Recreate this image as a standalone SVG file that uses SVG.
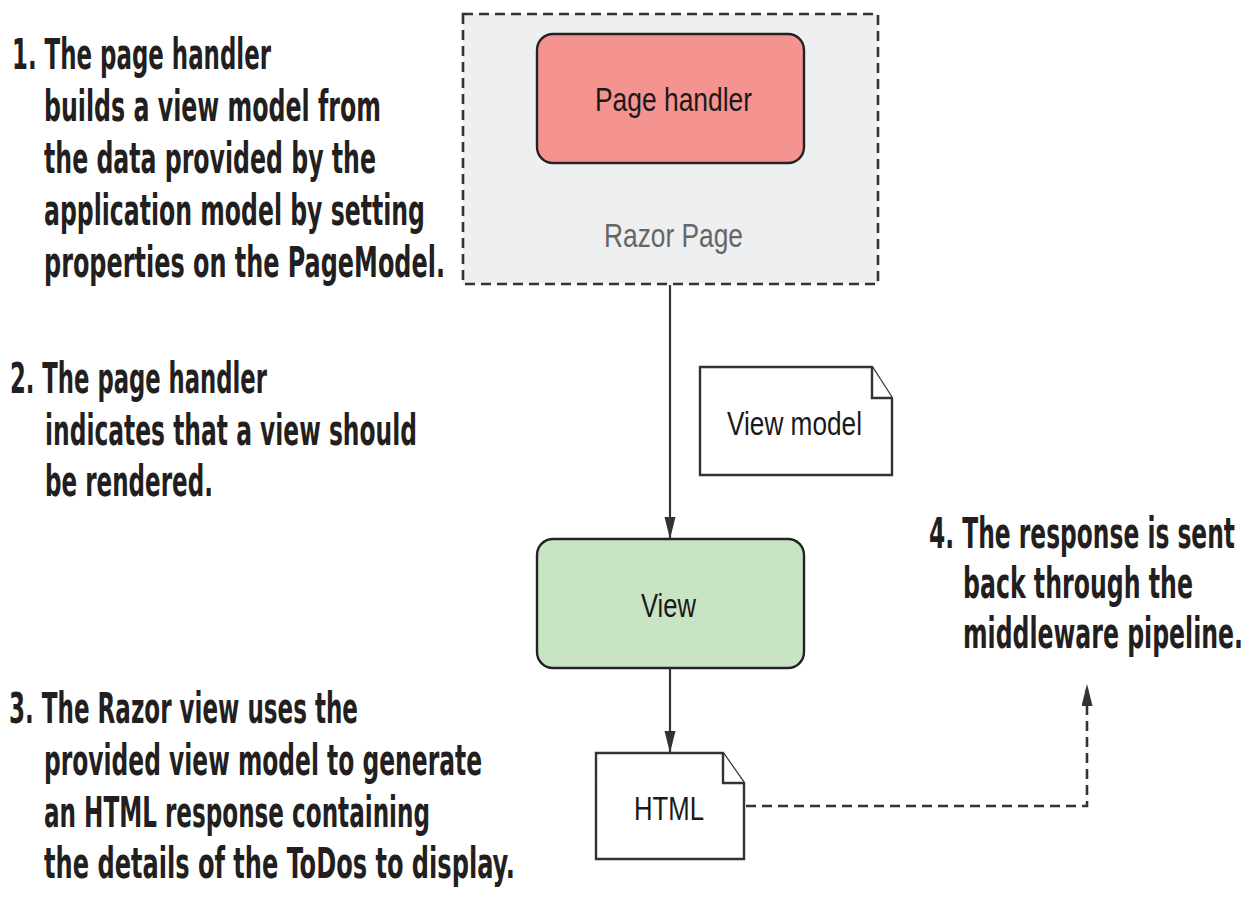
<svg xmlns="http://www.w3.org/2000/svg" width="1255" height="899" viewBox="0 0 1255 899">
  <defs>
    <style>
      .note { font-family: "DejaVu Sans Condensed", "Liberation Sans Narrow", "Liberation Sans", sans-serif; font-weight: bold; font-size: 43px; fill: #231f20; }
      .label { font-family: "Liberation Sans", Arial, sans-serif; font-size: 34px; fill: #1a1a1a; text-anchor: start; }
      .doc { fill: #ffffff; stroke: #333333; stroke-width: 2.4; stroke-linejoin: miter; }
      .conn { fill: none; stroke: #333333; stroke-width: 2.2; }
      .dashed { stroke-dasharray: 10 6; stroke-width: 2.6; }
    </style>
    <marker id="arrow" markerUnits="userSpaceOnUse" markerWidth="24" markerHeight="12" refX="22" refY="5.5" orient="auto">
      <path d="M0,0 L22,5.5 L0,11 z" fill="#333333"/>
    </marker>
  </defs>

  <rect width="1255" height="899" fill="#ffffff"/>

  <g id="razor-page">
    <rect x="463" y="14" width="415" height="270" fill="#eeeff1" stroke="#333333" stroke-width="2.6" stroke-dasharray="10 6"/>
    <text class="label" x="604" y="247" textLength="139" lengthAdjust="spacingAndGlyphs" style="fill:#666666">Razor Page</text>
  </g>

  <g id="page-handler">
    <rect x="537" y="34" width="267" height="129" rx="16" ry="16" fill="#f59391" stroke="#222222" stroke-width="2.4"/>
    <text class="label" x="595" y="111" textLength="157" lengthAdjust="spacingAndGlyphs">Page handler</text>
  </g>

  <g id="view-model">
    <path class="doc" d="M700,367 L872,367 L892,398 L892,475 L700,475 Z"/>
    <path class="doc" d="M872,367 L872,398 L892,398" fill="none"/>
    <text class="label" x="727" y="435" textLength="135" lengthAdjust="spacingAndGlyphs">View model</text>
  </g>

  <g id="view">
    <rect x="537" y="539" width="267" height="129" rx="16" ry="16" fill="#c8e4c4" stroke="#222222" stroke-width="2.4"/>
    <text class="label" x="641" y="617" textLength="55" lengthAdjust="spacingAndGlyphs">View</text>
  </g>

  <g id="html">
    <path class="doc" d="M596,753 L723,753 L744,783 L744,859 L596,859 Z"/>
    <path class="doc" d="M723,753 L723,783 L744,783" fill="none"/>
    <text class="label" x="634" y="820" textLength="70" lengthAdjust="spacingAndGlyphs">HTML</text>
  </g>

  <g id="connectors">
    <line class="conn" x1="670" y1="285" x2="670" y2="539" marker-end="url(#arrow)"/>
    <line class="conn" x1="670" y1="668" x2="670" y2="753" marker-end="url(#arrow)"/>
    <polyline class="conn dashed" points="746,806 1087,806 1087,684" marker-end="url(#arrow)"/>
  </g>

  <g id="note-1">
    <text class="note" x="12" y="69" textLength="259" lengthAdjust="spacingAndGlyphs">1. The page handler</text>
    <text class="note" x="44" y="121" textLength="337" lengthAdjust="spacingAndGlyphs">builds a view model from</text>
    <text class="note" x="44" y="173" textLength="332" lengthAdjust="spacingAndGlyphs">the data provided by the</text>
    <text class="note" x="44" y="225" textLength="381" lengthAdjust="spacingAndGlyphs">application model by setting</text>
    <text class="note" x="44" y="277" textLength="401" lengthAdjust="spacingAndGlyphs">properties on the PageModel.</text>
  </g>

  <g id="note-2">
    <text class="note" x="10" y="393" textLength="257" lengthAdjust="spacingAndGlyphs">2. The page handler</text>
    <text class="note" x="45" y="445" textLength="372" lengthAdjust="spacingAndGlyphs">indicates that a view should</text>
    <text class="note" x="45" y="496" textLength="168" lengthAdjust="spacingAndGlyphs">be rendered.</text>
  </g>

  <g id="note-3">
    <text class="note" x="9" y="723" textLength="349" lengthAdjust="spacingAndGlyphs">3. The Razor view uses the</text>
    <text class="note" x="44" y="775" textLength="438" lengthAdjust="spacingAndGlyphs">provided view model to generate</text>
    <text class="note" x="44" y="827" textLength="386" lengthAdjust="spacingAndGlyphs">an HTML response containing</text>
    <text class="note" x="44" y="878" textLength="471" lengthAdjust="spacingAndGlyphs">the details of the ToDos to display.</text>
  </g>

  <g id="note-4">
    <text class="note" x="929" y="548" textLength="306" lengthAdjust="spacingAndGlyphs">4. The response is sent</text>
    <text class="note" x="963" y="598" textLength="230" lengthAdjust="spacingAndGlyphs">back through the</text>
    <text class="note" x="963" y="648" textLength="280" lengthAdjust="spacingAndGlyphs">middleware pipeline.</text>
  </g>
</svg>
